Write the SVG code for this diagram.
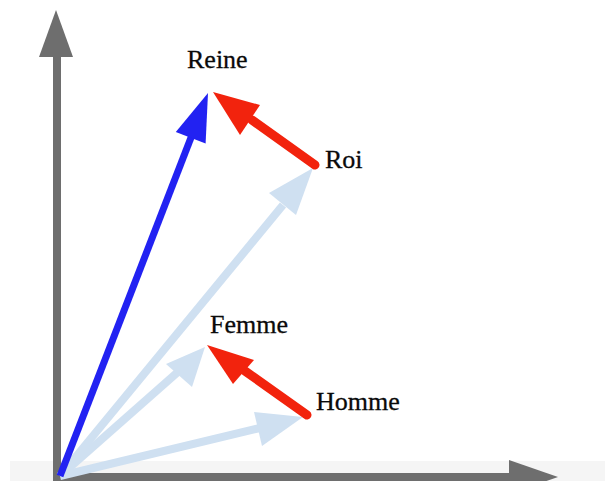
<svg xmlns="http://www.w3.org/2000/svg" width="605" height="481" viewBox="0 0 605 481">
  <style>
    .lbl { font-family: "Liberation Serif", "Times New Roman", serif; font-size: 26px; fill: #0a0a0a; stroke: #0a0a0a; stroke-width: 0.3; }
    .axis { stroke: #6e6e6e; stroke-width: 8; fill: none; }
    .axhead { fill: #6e6e6e; }
    .lb { stroke: #cfe0f1; stroke-width: 8; fill: none; }
    .lbh { fill: #cfe0f1; }
    .bl { stroke: #2222f2; stroke-width: 7; fill: none; }
    .blh { fill: #2222f2; }
    .rd { stroke: #f2230d; stroke-width: 9; fill: none; stroke-linecap: round; }
    .rdh { fill: #f2230d; }
  </style>
  <rect x="0" y="0" width="605" height="481" fill="#ffffff"/>
  <rect x="10" y="461" width="595" height="20" fill="#f5f5f5"/>
  <g id="axes">
    <line class="axis" x1="57" y1="481" x2="57" y2="55"/>
    <polygon class="axhead" points="56,10 73,57 39,57"/>
    <line class="axis" x1="53" y1="477" x2="512" y2="477"/>
    <polygon class="axhead" points="558,477 509,460 509,494"/>
  </g>
  <g id="connectors">
    <!-- light blue: origin to Homme -->
    <line class="lb" x1="60" y1="476" x2="260" y2="428"/>
    <polygon class="lbh" points="303,417 262,446 254,412"/>
    <!-- light blue: origin to Femme -->
    <line class="lb" x1="60" y1="476" x2="179" y2="371"/>
    <polygon class="lbh" points="205,347 192,387 166,364"/>
    <!-- light blue: origin to Roi -->
    <line class="lb" x1="60" y1="476" x2="283" y2="205"/>
    <polygon class="lbh" points="313,168 296,215 269,193"/>
    <!-- blue: origin to Reine -->
    <line class="bl" x1="60" y1="476" x2="192" y2="135"/>
    <polygon class="blh" points="208,93 205.6,143.6 175.8,132"/>
    <!-- red: Homme to Femme -->
    <line class="rd" x1="307" y1="415" x2="245" y2="371"/>
    <polygon class="rdh" points="207,345 254,360 233,384"/>
    <!-- red: Roi to Reine -->
    <line class="rd" x1="315" y1="165" x2="252" y2="120"/>
    <polygon class="rdh" points="213,92 260,105 240,135"/>
  </g>
  <g id="node-reine"><text class="lbl" x="187" y="68">Reine</text></g>
  <g id="node-roi"><text class="lbl" x="325" y="168">Roi</text></g>
  <g id="node-femme"><text class="lbl" x="210" y="333">Femme</text></g>
  <g id="node-homme"><text class="lbl" x="316" y="410">Homme</text></g>
</svg>
